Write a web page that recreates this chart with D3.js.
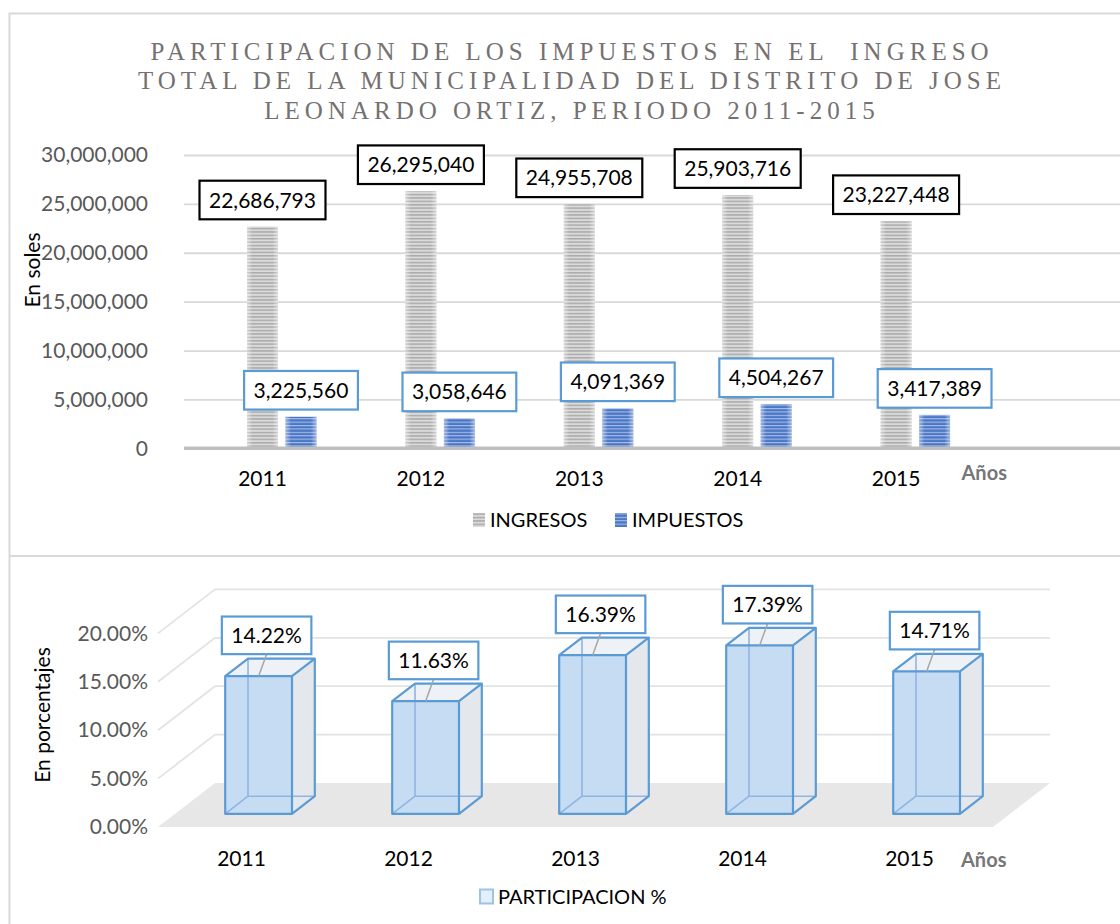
<!DOCTYPE html>
<html>
<head>
<meta charset="utf-8">
<script src="https://cdn.jsdelivr.net/npm/d3@7"></script>
<style>
  body { margin: 0; background: #fff; }
  svg text { font-family: Lato, 'Open Sans', sans-serif; }
</style>
</head>
<body>
<svg id="chart" width="1120" height="924"></svg>
<script>
// ---- data ----
const years = ['2011', '2012', '2013', '2014', '2015'];
const ingresos = [22686793, 26295040, 24955708, 25903716, 23227448];
const impuestos = [3225560, 3058646, 4091369, 4504267, 3417389];
const participacion = [14.22, 11.63, 16.39, 17.39, 14.71];
const solesTicks = [0, 5000000, 10000000, 15000000, 20000000, 25000000, 30000000];
const pctTicks = [0, 5, 10, 15, 20];
const seriesNames = ['INGRESOS', 'IMPUESTOS'];
const pctName = 'PARTICIPACION %';
const titleLines = [
  'PARTICIPACION DE LOS IMPUESTOS EN EL  INGRESO',
  'TOTAL DE LA MUNICIPALIDAD DEL DISTRITO DE JOSE',
  'LEONARDO ORTIZ, PERIODO 2011-2015'
];

const svg = d3.select('#chart');
const defs = svg.append('defs');

// striped fills used by the Excel pattern bars
function stripe(id, base, line, h, lh) {
  const p = defs.append('pattern')
    .attr('id', id)
    .attr('patternUnits', 'userSpaceOnUse')
    .attr('width', 8)
    .attr('height', h);
  p.append('rect').attr('width', 8).attr('height', h).attr('fill', base);
  p.append('rect').attr('width', 8).attr('height', lh).attr('fill', line);
}
stripe('pGray', '#dadada', '#aaaaaa', 3.4, 1.5);
stripe('pBlue', '#4a76c6', '#a9bee6', 3.4, 1.1);

const edge = defs.append('linearGradient').attr('id', 'edge').attr('x1', 0).attr('x2', 1);
[[0, 0.45], [0.18, 0], [0.82, 0], [1, 0.45]].forEach(s => {
  edge.append('stop').attr('offset', s[0]).attr('stop-color', '#fff').attr('stop-opacity', s[1]);
});

// chart frames
const frame = svg.append('g').attr('stroke', '#d9d9d9').attr('stroke-width', 2).attr('fill', 'none');
frame.append('path').attr('d', 'M9.5,924 V13.5 H1120');
frame.append('path').attr('d', 'M9.5,556 H1120');

// ================= top chart =================
const topG = svg.append('g');

topG.append('g')
  .selectAll('text')
  .data(titleLines)
  .enter()
  .append('text')
  .attr('x', 572)
  .attr('y', (d, i) => 59.5 + i * 29.5)
  .attr('text-anchor', 'middle')
  .style('font-family', "'Liberation Serif', 'Times New Roman', serif")
  .style('white-space', 'pre')
  .attr('font-size', 25)
  .attr('letter-spacing', 5)
  .attr('fill', '#757171')
  .text(d => d);

const yTop = d3.scaleLinear().domain([0, 30000000]).range([448.3, 155]);
const xTop = d3.scaleBand().domain(years).range([183.3, 975.3]);
// three slots per year: the first one is empty, INGRESOS sits on the centre
const slot = d3.scaleBand().domain(['', ...seriesNames]).range([-54, 54]).paddingInner(0.195);

// gridlines
const gridTop = topG.append('g')
  .attr('transform', 'translate(184,0)')
  .call(d3.axisRight(yTop).tickValues(solesTicks.slice(1)).tickSize(936).tickFormat(''));
gridTop.select('.domain').remove();
gridTop.selectAll('line').attr('stroke', '#d9d9d9').attr('stroke-width', 1.8);

// y tick labels
const yAxisTop = topG.append('g')
  .attr('transform', 'translate(148,0)')
  .call(d3.axisLeft(yTop).tickValues(solesTicks).tickSize(0).tickPadding(0).tickFormat(d3.format(',')));
yAxisTop.select('.domain').remove();
yAxisTop.selectAll('text').attr('font-size', 21).attr('fill', '#595959').style('font-family', 'Lato, sans-serif');

// bars
const cx = y => xTop(y) + xTop.bandwidth() / 2;
const topSeries = [
  { name: 'INGRESOS', values: ingresos, fill: 'url(#pGray)', box: '#000' },
  { name: 'IMPUESTOS', values: impuestos, fill: 'url(#pBlue)', box: '#5b9bd5' }
];

topSeries.forEach(s => {
  const g = topG.append('g');
  const rows = years.map((y, i) => ({ year: y, value: s.values[i] }));
  g.selectAll('rect.bar')
    .data(rows)
    .enter()
    .append('rect')
    .attr('class', 'bar')
    .attr('x', d => cx(d.year) + slot(s.name))
    .attr('y', d => yTop(d.value))
    .attr('width', slot.bandwidth())
    .attr('height', d => yTop(0) - yTop(d.value))
    .attr('fill', s.fill);
  g.selectAll('rect.shine')
    .data(rows)
    .enter()
    .append('rect')
    .attr('class', 'shine')
    .attr('x', d => cx(d.year) + slot(s.name))
    .attr('y', d => yTop(d.value))
    .attr('width', slot.bandwidth())
    .attr('height', d => yTop(0) - yTop(d.value))
    .attr('fill', 'url(#edge)');
});

// baseline
topG.append('line')
  .attr('x1', 184).attr('x2', 1120)
  .attr('y1', yTop(0)).attr('y2', yTop(0))
  .attr('stroke', '#bfbfbf').attr('stroke-width', 3.5);

// data labels in boxes
function boxLabel(g, x, yBottom, text, color, h) {
  const lg = g.append('g');
  const rect = lg.append('rect');
  const t = lg.append('text')
    .attr('x', x)
    .attr('y', yBottom - h / 2)
    .attr('dy', '0.36em')
    .attr('text-anchor', 'middle')
    .attr('font-size', 21)
    .attr('fill', '#000')
    .text(text);
  const w = t.node().getComputedTextLength() + 19;
  rect.attr('x', x - w / 2).attr('y', yBottom - h)
    .attr('width', w).attr('height', h)
    .attr('fill', '#fff').attr('stroke', color).attr('stroke-width', 2.2);
}

topSeries.forEach(s => {
  years.forEach((y, i) => {
    const x = cx(y) + slot(s.name) + slot.bandwidth() / 2;
    boxLabel(topG, x, yTop(s.values[i]) - 7.2, d3.format(',')(s.values[i]), s.box, 38.6);
  });
});

// category labels
const xAxisTop = topG.append('g')
  .attr('transform', 'translate(0,471.5)')
  .call(d3.axisBottom(xTop).tickSize(0).tickPadding(0));
xAxisTop.select('.domain').remove();
xAxisTop.selectAll('text').attr('font-size', 21).attr('fill', '#000').style('font-family', 'Lato, sans-serif');

topG.append('text')
  .attr('x', 961.5).attr('y', 480)
  .attr('font-size', 20).attr('font-weight', 'bold').attr('fill', '#767676')
  .text('Años');

topG.append('text')
  .attr('transform', 'translate(32,270) rotate(-90)')
  .attr('text-anchor', 'middle')
  .attr('dy', '0.36em')
  .attr('font-size', 21)
  .attr('fill', '#000')
  .text('En soles');

// legend
const legTop = topG.append('g');
[{ name: 'INGRESOS', fill: 'url(#pGray)', x: 473 }, { name: 'IMPUESTOS', fill: 'url(#pBlue)', x: 615 }]
  .forEach(d => {
    legTop.append('rect').attr('x', d.x).attr('y', 513).attr('width', 12).attr('height', 14).attr('fill', d.fill);
    legTop.append('text').attr('x', d.x + 17).attr('y', 520).attr('dy', '0.36em')
      .attr('font-size', 20).attr('fill', '#000').text(d.name);
  });

// ================= bottom chart =================
const botG = svg.append('g');
const xBot = d3.scaleBand().domain(years).range([158, 993]).paddingInner(0.6).paddingOuter(0.3);
const yBot = d3.scaleLinear().domain([0, 20]).range([827, 633.4]);
const depth = { dx: 57, dy: -44 };
const tFront = 0.3, tBack = 0.7;
const proj = (x, v, t) => [x + depth.dx * t, yBot(v) + depth.dy * t];

const [x0, x1] = xBot.range();

// floor
botG.append('polygon')
  .attr('points', [proj(x0, 0, 0), proj(x1, 0, 0), proj(x1, 0, 1), proj(x0, 0, 1)].map(p => p.join(',')).join(' '))
  .attr('fill', '#e7e7e7');

// back and side wall gridlines
const walls = botG.append('g').attr('stroke', '#e3e3e3').attr('stroke-width', 1.8).attr('fill', 'none');
pctTicks.filter(v => v > 0).forEach(v => {
  const a = proj(x0, v, 0), b = proj(x0, v, 1), c = proj(x1, v, 1);
  walls.append('path').attr('d', `M${a}L${b}L${c}`);
});

// y tick labels
const yAxisBot = botG.append('g')
  .attr('transform', 'translate(148,0)')
  .call(d3.axisLeft(yBot).tickValues(pctTicks).tickSize(0).tickPadding(0).tickFormat(d => d.toFixed(2) + '%'));
yAxisBot.select('.domain').remove();
yAxisBot.selectAll('text').attr('font-size', 21).attr('fill', '#595959').style('font-family', 'Lato, sans-serif');

// 3D glass bars
const bw = xBot.bandwidth();
const pts = a => a.map(p => p.join(',')).join(' ');
years.forEach((y, i) => {
  const v = participacion[i];
  const xl = xBot(y), xr = xl + bw;
  const g = botG.append('g');
  const fl0 = proj(xl, 0, tFront), fr0 = proj(xr, 0, tFront);
  const fl1 = proj(xl, v, tFront), fr1 = proj(xr, v, tFront);
  const bl0 = proj(xl, 0, tBack), br0 = proj(xr, 0, tBack);
  const bl1 = proj(xl, v, tBack), br1 = proj(xr, v, tBack);

  // side and top faces
  g.append('polygon').attr('points', pts([fr0, fr1, br1, br0])).attr('fill', '#e4e8ed');
  g.append('polygon').attr('points', pts([fl1, bl1, br1, fr1])).attr('fill', '#eef1f5');
  // front face
  g.append('polygon').attr('points', pts([fl0, fl1, fr1, fr0])).attr('fill', '#c6dcf2');
  // hidden edges seen through the glass
  g.append('path')
    .attr('d', `M${bl1}L${bl0}L${br0}M${fl0}L${bl0}`)
    .attr('stroke', '#8fb5e3').attr('stroke-width', 1.6).attr('fill', 'none');
  // visible edges
  g.append('path')
    .attr('d', `M${fl0}L${fl1}L${fr1}L${fr0}Z M${fl1}L${bl1}L${br1}L${fr1} M${br1}L${br0}L${fr0}`)
    .attr('stroke', '#5b9bd5').attr('stroke-width', 2.2).attr('fill', 'none').attr('stroke-linejoin', 'round');
});

// data labels with leader lines
years.forEach((y, i) => {
  const v = participacion[i];
  const fc = xBot(y) + bw / 2 + depth.dx * tFront;
  const topY = yBot(v) + depth.dy * tFront;
  const boxBottom = topY - 22;
  botG.append('line')
    .attr('x1', fc + 8).attr('y1', boxBottom)
    .attr('x2', fc).attr('y2', topY)
    .attr('stroke', '#a6a6a6').attr('stroke-width', 1.5);
  boxLabel(botG, fc + 8, boxBottom, v.toFixed(2) + '%', '#5b9bd5', 37.6);
});

// category labels
const xAxisBot = botG.append('g')
  .attr('transform', 'translate(0,850.8)')
  .call(d3.axisBottom(xBot).tickSize(0).tickPadding(0));
xAxisBot.select('.domain').remove();
xAxisBot.selectAll('text').attr('font-size', 21).attr('fill', '#000').style('font-family', 'Lato, sans-serif');

botG.append('text')
  .attr('x', 961).attr('y', 866.5)
  .attr('font-size', 20).attr('font-weight', 'bold').attr('fill', '#767676')
  .text('Años');

botG.append('text')
  .attr('transform', 'translate(42,715) rotate(-90)')
  .attr('text-anchor', 'middle')
  .attr('dy', '0.36em')
  .attr('font-size', 21)
  .attr('fill', '#000')
  .text('En porcentajes');

// legend
botG.append('rect')
  .attr('x', 480).attr('y', 889.5).attr('width', 13).attr('height', 14)
  .attr('fill', '#e2f0fb').attr('stroke', '#9dc3e6').attr('stroke-width', 2);
botG.append('text')
  .attr('x', 498).attr('y', 896.5).attr('dy', '0.36em')
  .attr('font-size', 20).attr('fill', '#000')
  .text(pctName);
</script>
</body>
</html>
